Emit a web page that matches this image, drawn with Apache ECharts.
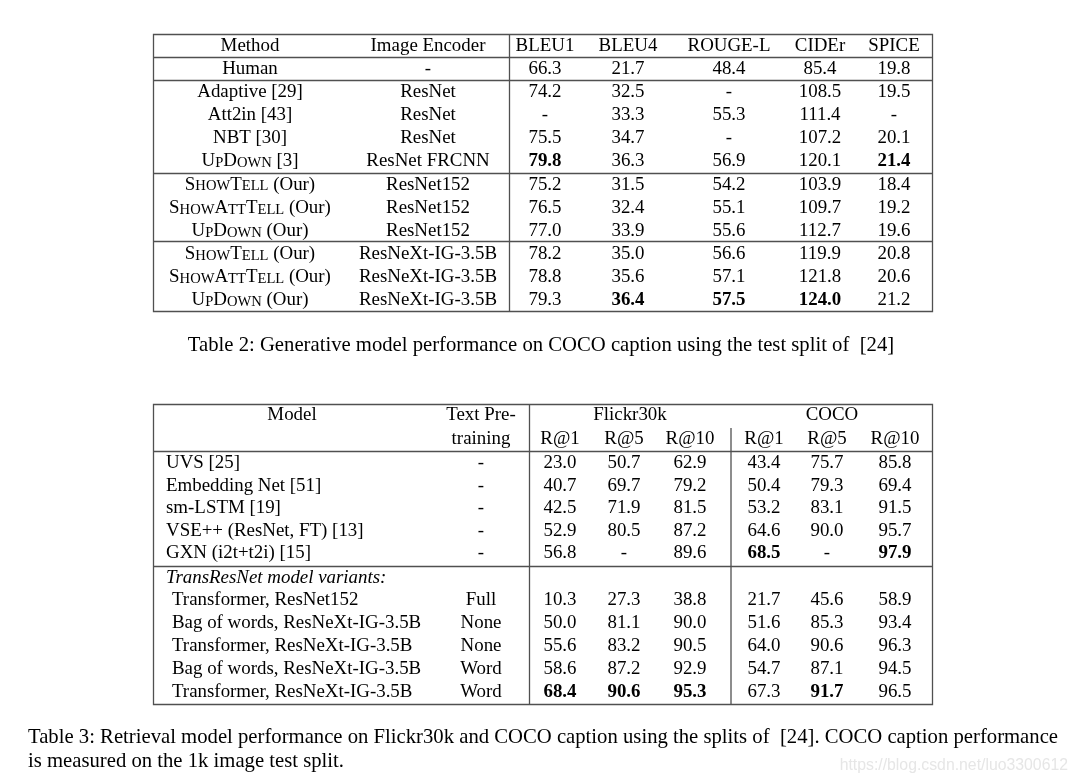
<!DOCTYPE html>
<html>
<head>
<meta charset="utf-8">
<script src="https://cdn.jsdelivr.net/npm/echarts@6/dist/echarts.min.js"></script>
<style>
  html, body { margin: 0; padding: 0; background: #fff; }
  #main { width: 1078px; height: 784px; }
</style>
</head>
<body>
<div id="main"></div>
<script>
// ---- table 2 data ----
const t2Header = ['Method', 'Image Encoder', 'BLEU1', 'BLEU4', 'ROUGE-L', 'CIDEr', 'SPICE'];
const t2Methods = [
  'Human', 'Adaptive [29]', 'Att2in [43]', 'NBT [30]', 'U{sc|P}D{sc|OWN} [3]',
  'S{sc|HOW}T{sc|ELL} (Our)', 'S{sc|HOW}A{sc|TT}T{sc|ELL} (Our)', 'U{sc|P}D{sc|OWN} (Our)',
  'S{sc|HOW}T{sc|ELL} (Our)', 'S{sc|HOW}A{sc|TT}T{sc|ELL} (Our)', 'U{sc|P}D{sc|OWN} (Our)'
];
const t2Encoders = [
  '-', 'ResNet', 'ResNet', 'ResNet', 'ResNet FRCNN',
  'ResNet152', 'ResNet152', 'ResNet152',
  'ResNeXt-IG-3.5B', 'ResNeXt-IG-3.5B', 'ResNeXt-IG-3.5B'
];
const t2Scores = [
  ['66.3', '21.7', '48.4', '85.4', '19.8'],
  ['74.2', '32.5', '-', '108.5', '19.5'],
  ['-', '33.3', '55.3', '111.4', '-'],
  ['75.5', '34.7', '-', '107.2', '20.1'],
  ['{b|79.8}', '36.3', '56.9', '120.1', '{b|21.4}'],
  ['75.2', '31.5', '54.2', '103.9', '18.4'],
  ['76.5', '32.4', '55.1', '109.7', '19.2'],
  ['77.0', '33.9', '55.6', '112.7', '19.6'],
  ['78.2', '35.0', '56.6', '119.9', '20.8'],
  ['78.8', '35.6', '57.1', '121.8', '20.6'],
  ['79.3', '{b|36.4}', '{b|57.5}', '{b|124.0}', '21.2']
];
const t2Caption = 'Table 2: Generative model performance on COCO caption using the test split of  [24]';

// ---- table 3 data ----
const t3Header1 = ['Model', 'Text Pre-', 'Flickr30k', 'COCO'];
const t3Header2 = ['training', 'R@1', 'R@5', 'R@10', 'R@1', 'R@5', 'R@10'];
const t3GroupLabel = 'TransResNet model variants:';
const t3Models = [
  'UVS [25]', 'Embedding Net [51]', 'sm-LSTM [19]', 'VSE++ (ResNet, FT) [13]', 'GXN (i2t+t2i) [15]',
  'Transformer, ResNet152', 'Bag of words, ResNeXt-IG-3.5B', 'Transformer, ResNeXt-IG-3.5B',
  'Bag of words, ResNeXt-IG-3.5B', 'Transformer, ResNeXt-IG-3.5B'
];
const t3Pretrain = ['-', '-', '-', '-', '-', 'Full', 'None', 'None', 'Word', 'Word'];
const t3Flickr = [
  ['23.0', '50.7', '62.9'], ['40.7', '69.7', '79.2'], ['42.5', '71.9', '81.5'],
  ['52.9', '80.5', '87.2'], ['56.8', '-', '89.6'],
  ['10.3', '27.3', '38.8'], ['50.0', '81.1', '90.0'], ['55.6', '83.2', '90.5'],
  ['58.6', '87.2', '92.9'], ['{b|68.4}', '{b|90.6}', '{b|95.3}']
];
const t3Coco = [
  ['43.4', '75.7', '85.8'], ['50.4', '79.3', '69.4'], ['53.2', '83.1', '91.5'],
  ['64.6', '90.0', '95.7'], ['{b|68.5}', '-', '{b|97.9}'],
  ['21.7', '45.6', '58.9'], ['51.6', '85.3', '93.4'], ['64.0', '90.6', '96.3'],
  ['54.7', '87.1', '94.5'], ['67.3', '{b|91.7}', '96.5']
];
const t3Caption = [
  'Table 3: Retrieval model performance on Flickr30k and COCO caption using the splits of  [24]. COCO caption performance',
  'is measured on the 1k image test split.'
];
const watermark = 'https://blog.csdn.net/luo3300612';

// ---- layout ----
const SERIF = '"Liberation Serif", "Times New Roman", serif';
const FS = 18.9;
const CAP_FS = 20.7;
const DY = 1;
const LINE = '#505050';
const rich = {
  b: { fontFamily: SERIF, fontSize: FS, fontWeight: 'bold', fill: '#000' },
  sc: { fontFamily: SERIF, fontSize: 14.6, fill: '#000', verticalAlign: 'bottom' }
};

function txt(x, y, s, extra) {
  return {
    type: 'text', x: x, y: y + DY, silent: true,
    style: Object.assign({
      text: s, fill: '#000', fontFamily: SERIF, fontSize: FS,
      align: 'center', verticalAlign: 'middle', rich: rich
    }, extra || {})
  };
}
function line(x1, y1, x2, y2, w) {
  return {
    type: 'line', silent: true,
    shape: { x1: x1, y1: y1, x2: x2, y2: y2 },
    style: { stroke: LINE, lineWidth: w || 1.3 }
  };
}

const els = [];

// table 2
const t2Cols = [250, 428, 545, 628, 729, 820, 894];
const t2Y0 = 45, t2Pitch = 23.1;
t2Header.forEach((h, i) => els.push(txt(t2Cols[i], t2Y0, h)));
t2Methods.forEach((m, r) => {
  const y = t2Y0 + t2Pitch * (r + 1);
  els.push(txt(t2Cols[0], y, m));
  els.push(txt(t2Cols[1], y, t2Encoders[r]));
  t2Scores[r].forEach((v, c) => els.push(txt(t2Cols[c + 2], y, v)));
});
els.push({ type: 'rect', silent: true, shape: { x: 153.5, y: 34.5, width: 779, height: 277 },
  style: { fill: 'none', stroke: LINE, lineWidth: 1.3 } });
els.push(line(509.5, 34.5, 509.5, 311.5));
[57.5, 80.5, 173.5, 241.5].forEach(y => els.push(line(153.5, y, 932.5, y, 1.7)));
els.push(txt(541, 345, t2Caption, { fontSize: CAP_FS }));

// table 3
const t3Left = 166, t3Indent = 172, t3PreX = 481;
const t3Cols = [560, 624, 690, 764, 827, 895];
els.push(txt(292, 414, t3Header1[0]));
els.push(txt(t3PreX, 414, t3Header1[1]));
els.push(txt(630, 414, t3Header1[2]));
els.push(txt(832, 414, t3Header1[3]));
els.push(txt(t3PreX, 438, t3Header2[0]));
t3Header2.slice(1).forEach((h, i) => els.push(txt(t3Cols[i], 438, h)));
els.push(txt(t3Left, 577, t3GroupLabel, { align: 'left', fontStyle: 'italic' }));
t3Models.forEach((m, r) => {
  const y = r < 5 ? 462 + 22.6 * r : 599.5 + 22.9 * (r - 5);
  els.push(txt(r < 5 ? t3Left : t3Indent, y, m, { align: 'left' }));
  els.push(txt(t3PreX, y, t3Pretrain[r]));
  t3Flickr[r].concat(t3Coco[r]).forEach((v, c) => els.push(txt(t3Cols[c], y, v)));
});
els.push({ type: 'rect', silent: true, shape: { x: 153.5, y: 404.5, width: 779, height: 300 },
  style: { fill: 'none', stroke: LINE, lineWidth: 1.3 } });
els.push(line(529.5, 404.5, 529.5, 704.5));
els.push(line(731, 428, 731, 704.5));
[451.5, 566.5].forEach(y => els.push(line(153.5, y, 932.5, y, 1.7)));

// table 3 caption, first line justified
const ctx = document.createElement('canvas').getContext('2d');
ctx.font = CAP_FS + 'px ' + SERIF;
(function () {
  const words = t3Caption[0].split(' ');
  const left = 28, right = 1058;
  const widths = words.map(w => ctx.measureText(w).width);
  const total = widths.reduce((a, b) => a + b, 0);
  const gap = (right - left - total) / (words.length - 1);
  let x = left;
  words.forEach((w, i) => {
    if (w) els.push(txt(x, 737, w, { align: 'left', fontSize: CAP_FS }));
    x += widths[i] + gap;
  });
})();
els.push(txt(28, 761, t3Caption[1], { align: 'left', fontSize: CAP_FS }));

els.push(txt(1068, 765, watermark, {
  align: 'right', fontFamily: '"Liberation Sans", Arial, sans-serif', fontSize: 15.8, fill: '#e6e6e6'
}));

const chart = echarts.init(document.getElementById('main'), null, { renderer: 'canvas' });
chart.setOption({
  backgroundColor: '#fff',
  animation: false,
  graphic: { elements: els }
});
</script>
</body>
</html>
